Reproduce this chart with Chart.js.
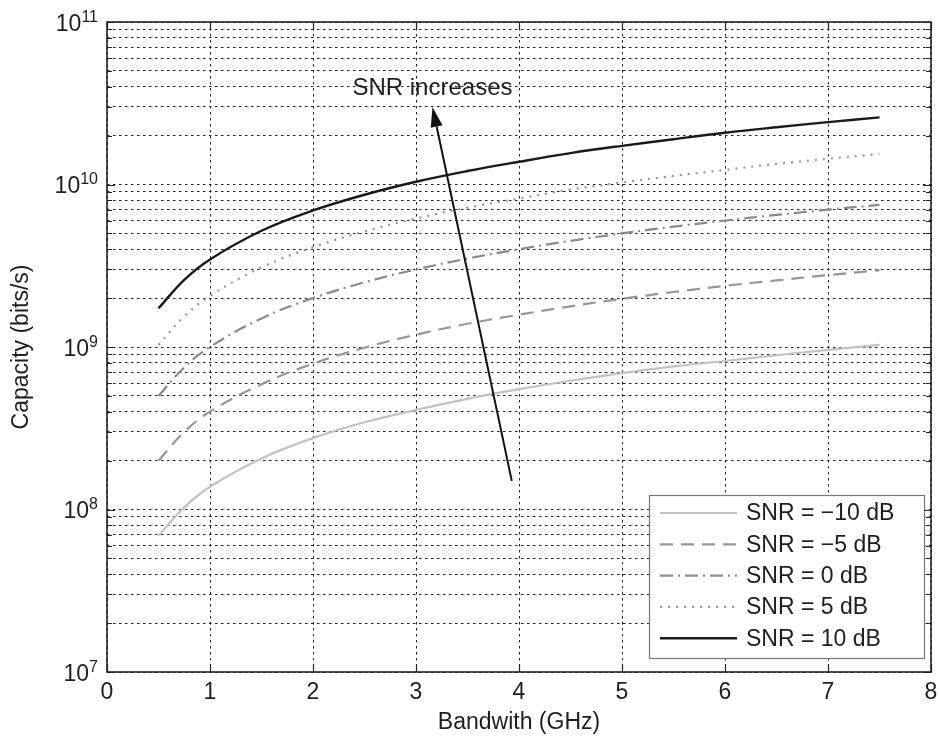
<!DOCTYPE html>
<html><head><meta charset="utf-8">
<script src="https://cdn.jsdelivr.net/npm/chart.js@4.4.1/dist/chart.umd.min.js"></script>
<style>html,body{margin:0;padding:0;background:#fff}#wrap{width:940px;height:740px}</style>
</head><body><div id="wrap"><canvas id="c" width="940" height="740"></canvas></div>
<script>
// ---- data ----
const bandwidthGHz = [0.5, 0.75, 1, 1.5, 2, 2.5, 3, 3.5, 4, 4.5, 5, 5.5, 6, 6.5, 7, 7.5];
const seriesLabels = ['SNR = \u221210 dB', 'SNR = \u22125 dB', 'SNR = 0 dB', 'SNR = 5 dB', 'SNR = 10 dB'];
const capSnrM10 = [6.9e7, 1.03e8, 1.38e8, 2.06e8, 2.75e8, 3.44e8, 4.1e8, 4.8e8, 5.5e8, 6.2e8, 6.9e8, 7.6e8, 8.2e8, 8.9e8, 9.6e8, 1.03e9];
const capSnrM5  = [2.0e8, 3.0e8, 4.0e8, 5.9e8, 7.9e8, 9.9e8, 1.19e9, 1.39e9, 1.58e9, 1.78e9, 1.98e9, 2.18e9, 2.38e9, 2.57e9, 2.77e9, 2.97e9];
const capSnr0   = [5.0e8, 7.5e8, 1.0e9, 1.5e9, 2.0e9, 2.5e9, 3.0e9, 3.5e9, 4.0e9, 4.5e9, 5.0e9, 5.5e9, 6.0e9, 6.5e9, 7.0e9, 7.5e9];
const capSnr5   = [1.03e9, 1.54e9, 2.06e9, 3.09e9, 4.11e9, 5.14e9, 6.17e9, 7.2e9, 8.2e9, 9.3e9, 1.03e10, 1.13e10, 1.23e10, 1.34e10, 1.44e10, 1.54e10];
const capSnr10  = [1.73e9, 2.59e9, 3.46e9, 5.19e9, 6.92e9, 8.65e9, 1.04e10, 1.21e10, 1.38e10, 1.56e10, 1.73e10, 1.9e10, 2.08e10, 2.25e10, 2.42e10, 2.59e10];
const xTickValues = [0, 1, 2, 3, 4, 5, 6, 7, 8];
const yDecadeExponents = [7, 8, 9, 10, 11];
const annotationText = 'SNR increases';
const annotationTextAt = [3.16, 3.9e10];
const arrowTail = [3.93, 1.5e8];
const arrowHead = [3.16, 3.0e10];

const FONT = '"Liberation Sans", Arial, Helvetica, sans-serif';
const TXT = '#1e1e1e';

function pts(arr) { return bandwidthGHz.map((x, i) => ({x, y: arr[i]})); }

const styles = [
  {color: '#c2c2c2', width: 2.2, dash: []},
  {color: '#969696', width: 2.2, dash: [13, 8]},
  {color: '#8a8a8a', width: 2.2, dash: [13, 5, 2, 5]},
  {color: '#959595', width: 2.2, dash: [2, 6]},
  {color: '#1a1a1a', width: 2.4, dash: []}
];
const seriesData = [capSnrM10, capSnrM5, capSnr0, capSnr5, capSnr10];

const datasets = seriesData.map((arr, i) => ({
  label: seriesLabels[i],
  data: pts(arr),
  borderColor: styles[i].color,
  borderWidth: styles[i].width,
  borderDash: styles[i].dash,
  pointRadius: 0,
  fill: false,
  tension: 0.4
}));

const framePlugin = {
  id: 'frame',
  afterDraw(chart) {
    const {ctx, chartArea: a, scales: {x, y}} = chart;
    ctx.save();
    // inside tick marks
    ctx.strokeStyle = '#222';
    ctx.lineWidth = 1.2;
    ctx.setLineDash([]);
    ctx.beginPath();
    x.ticks.forEach(t => {
      const px = Math.round(x.getPixelForValue(t.value)) + 0.5;
      ctx.moveTo(px, a.bottom); ctx.lineTo(px, a.bottom - 8);
      ctx.moveTo(px, a.top); ctx.lineTo(px, a.top + 8);
    });
    y.ticks.forEach(t => {
      const py = Math.round(y.getPixelForValue(t.value)) + 0.5;
      const len = t.major ? 8 : 5;
      ctx.moveTo(a.left, py); ctx.lineTo(a.left + len, py);
      ctx.moveTo(a.right, py); ctx.lineTo(a.right - len, py);
    });
    ctx.stroke();
    // frame
    ctx.lineWidth = 1.6;
    ctx.strokeStyle = '#222';
    ctx.strokeRect(a.left, a.top, a.right - a.left, a.bottom - a.top);

    // y tick labels: 10 with superscript exponent
    ctx.fillStyle = TXT;
    ctx.textBaseline = 'alphabetic';
    yDecadeExponents.forEach(e => {
      const py = y.getPixelForValue(Math.pow(10, e));
      const expStr = String(e);
      ctx.font = '16px ' + FONT;
      const ew = ctx.measureText(expStr).width;
      const expLeft = a.left - 9 - ew;
      ctx.textAlign = 'left';
      ctx.fillText(expStr, expLeft, py - 0.5);
      ctx.font = '23px ' + FONT;
      ctx.textAlign = 'right';
      ctx.fillText('10', expLeft, py + 8.5);
    });

    // arrow annotation
    const tx = x.getPixelForValue(arrowTail[0]), ty = y.getPixelForValue(arrowTail[1]);
    const hx = x.getPixelForValue(arrowHead[0]), hy = y.getPixelForValue(arrowHead[1]);
    const ang = Math.atan2(hy - ty, hx - tx);
    const hl = 20, hw = 6;
    const bx = hx - hl * Math.cos(ang), by = hy - hl * Math.sin(ang);
    ctx.strokeStyle = '#111';
    ctx.lineWidth = 2;
    ctx.beginPath(); ctx.moveTo(tx, ty); ctx.lineTo(bx, by); ctx.stroke();
    ctx.fillStyle = '#111';
    ctx.beginPath();
    ctx.moveTo(hx, hy);
    ctx.lineTo(bx + hw * Math.sin(ang), by - hw * Math.cos(ang));
    ctx.lineTo(bx - hw * Math.sin(ang), by + hw * Math.cos(ang));
    ctx.closePath(); ctx.fill();
    ctx.font = '24px ' + FONT;
    ctx.fillStyle = TXT;
    ctx.textAlign = 'center';
    ctx.textBaseline = 'middle';
    ctx.fillText(annotationText, x.getPixelForValue(annotationTextAt[0]), y.getPixelForValue(annotationTextAt[1]));

    // legend box
    const bw = 275, bh = 163;
    const lx = a.right - 7 - bw, ly = a.bottom - 14 - bh;
    ctx.fillStyle = '#fff';
    ctx.fillRect(lx, ly, bw, bh);
    ctx.strokeStyle = '#777';
    ctx.lineWidth = 1.2;
    ctx.strokeRect(lx + 0.5, ly + 0.5, bw, bh);
    ctx.textAlign = 'left';
    ctx.font = '23px ' + FONT;
    chart.data.datasets.forEach((ds, i) => {
      const cy = ly + 18 + i * 31.3;
      ctx.strokeStyle = ds.borderColor;
      ctx.lineWidth = ds.borderWidth;
      ctx.setLineDash(ds.borderDash);
      ctx.beginPath(); ctx.moveTo(lx + 11, cy); ctx.lineTo(lx + 88, cy); ctx.stroke();
      ctx.setLineDash([]);
      ctx.fillStyle = TXT;
      ctx.fillText(ds.label, lx + 97, cy + 1);
    });
    ctx.restore();
  }
};

new Chart(document.getElementById('c'), {
  type: 'line',
  data: {datasets},
  options: {
    responsive: false,
    animation: false,
    devicePixelRatio: 1,
    layout: {padding: {left: 0, top: 22, right: 9, bottom: 0}},
    plugins: {legend: {display: false}, tooltip: {enabled: false}},
    scales: {
      x: {
        type: 'linear', min: 0, max: 8,
        afterBuildTicks: s => { s.ticks = xTickValues.map(v => ({value: v})); },
        afterFit: s => { s.height = 68; s.paddingLeft = 0; s.paddingRight = 0; },
        grid: {color: '#222', lineWidth: 1, drawTicks: false},
        border: {display: false, dash: [2.5, 3.5]},
        ticks: {padding: 7, color: TXT, font: {family: FONT, size: 23}, maxRotation: 0, autoSkip: false},
        title: {display: true, text: 'Bandwith (GHz)', color: TXT, font: {family: FONT, size: 23}, padding: {top: 0, bottom: 4}}
      },
      y: {
        type: 'logarithmic', min: 1e7, max: 1e11,
        afterBuildTicks: s => {
          const t = [];
          yDecadeExponents.forEach(e => {
            for (let m = 1; m <= 9; m++) {
              if (e === yDecadeExponents[yDecadeExponents.length - 1] && m > 1) break;
              t.push({value: m * Math.pow(10, e), major: m === 1});
            }
          });
          s.ticks = t;
        },
        afterFit: s => { s.width = 107; },
        grid: {color: '#222', lineWidth: 1, drawTicks: false},
        border: {display: false, dash: [2.5, 3.5]},
        ticks: {display: false, autoSkip: false},
        title: {display: true, text: 'Capacity (bits/s)', color: TXT, font: {family: FONT, size: 23}, padding: {top: 8, bottom: 0}}
      }
    }
  },
  plugins: [framePlugin]
});
</script></body></html>
